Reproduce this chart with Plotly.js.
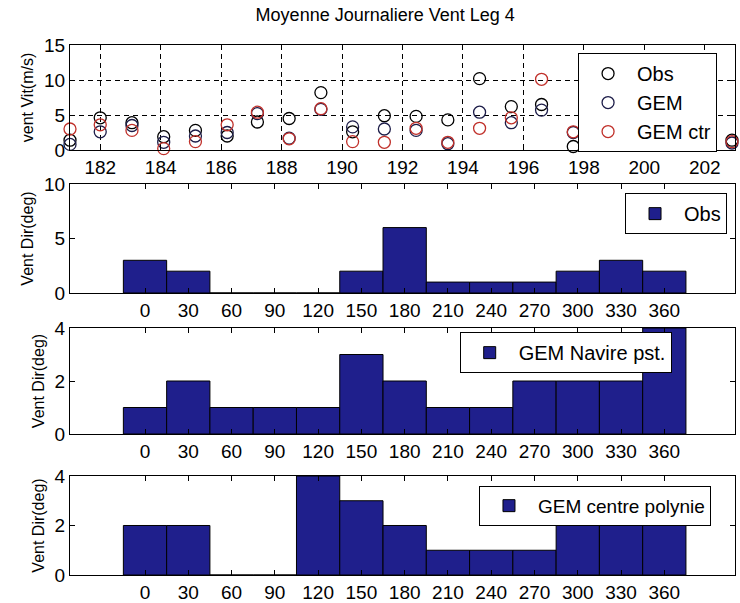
<!DOCTYPE html>
<html><head><meta charset="utf-8">
<script src="https://cdn.plot.ly/plotly-3.0.1.min.js"></script>
<style>body{margin:0;background:#fff}#chart{width:740px;height:603px}</style>
</head><body><div id="chart"></div>
<script>
// ---- data ----
const days = [181, 182, 183.05, 184.1, 185.15, 186.2, 187.2, 188.25, 189.3, 190.35, 191.4, 192.45, 193.5, 194.55, 195.6, 196.6, 197.65, 198.7, 199.75, 200.8, 201.85, 202.9];
const obsSpeed = [1.4, 4.6, 3.9, 1.9, 2.8, 2.0, 4.0, 4.5, 8.2, 2.6, 4.9, 4.8, 4.3, 10.2, 6.2, 6.5, 0.5, 5.0, 4.5, 4.0, 3.5, 1.4];
const gemSpeed = [0.8, 2.6, 3.5, 1.1, 2.0, 2.5, 5.2, 1.7, 5.8, 3.3, 3.0, 2.8, 0.9, 5.4, 3.9, 5.7, 2.5, 4.0, 3.5, 3.0, 3.0, 1.0];
const ctrSpeed = [3.0, 3.6, 2.8, 0.2, 1.2, 3.6, 5.4, 1.6, 5.9, 1.2, 1.1, 3.1, 1.1, 3.1, 4.6, 10.1, 2.6, 3.0, 3.0, 2.0, 1.9, 1.2];
const dayTicks = [182, 184, 186, 188, 190, 192, 194, 196, 198, 200, 202];

const dirBins = [0, 30, 60, 90, 120, 150, 180, 210, 240, 270, 300, 330, 360];
const obsDir = [3, 2, 0, 0, 0, 2, 6, 1, 1, 1, 2, 3, 2];
const gemDir = [1, 2, 1, 1, 1, 3, 2, 1, 1, 2, 2, 2, 4];
const ctrDir = [2, 2, 0, 0, 4, 3, 2, 1, 1, 1, 3, 2, 2];

const titleText = 'Moyenne Journaliere Vent Leg 4';
const speedLabel = 'vent Vit(m/s)';
const dirLabel = 'Vent Dir(deg)';

// ---- styles ----
const narrow = 'Liberation Sans Narrow, Arial Narrow, Liberation Sans, Arial, sans-serif';
const sans = 'Liberation Sans, Arial, sans-serif';
const tickFont = {family: narrow, size: 19, color: '#000'};
const barColor = '#1f1f8c';

function circ(color) {
  return {symbol: 'circle-open', size: 12, color: color, line: {width: 1.3, color: color}};
}

const traces = [
  {x: days, y: obsSpeed, type: 'scatter', mode: 'markers', name: 'Obs', marker: circ('#000000'), cliponaxis: false, xaxis: 'x', yaxis: 'y', legend: 'legend'},
  {x: days, y: gemSpeed, type: 'scatter', mode: 'markers', name: 'GEM', marker: circ('#1c1c48'), cliponaxis: false, xaxis: 'x', yaxis: 'y', legend: 'legend'},
  {x: days, y: ctrSpeed, type: 'scatter', mode: 'markers', name: 'GEM ctr', marker: circ('#c0302a'), cliponaxis: false, xaxis: 'x', yaxis: 'y', legend: 'legend'},
  {x: dirBins, y: obsDir, type: 'bar', width: 30, name: 'Obs', marker: {color: barColor, line: {color: '#000', width: 1}}, xaxis: 'x2', yaxis: 'y2', legend: 'legend2'},
  {x: dirBins, y: gemDir, type: 'bar', width: 30, name: 'GEM Navire pst.', marker: {color: barColor, line: {color: '#000', width: 1}}, xaxis: 'x3', yaxis: 'y3', legend: 'legend3'},
  {x: dirBins, y: ctrDir, type: 'bar', width: 30, name: 'GEM centre polynie', marker: {color: barColor, line: {color: '#000', width: 1}}, xaxis: 'x4', yaxis: 'y4', legend: 'legend4'}
];

function xax(anchor, range, tickvals, grid) {
  return {anchor: anchor, domain: [0, 1], range: range, tickvals: tickvals, ticks: 'inside', ticklen: 5,
    tickcolor: '#000', showline: true, linecolor: '#000', linewidth: 1, mirror: 'ticks',
    showgrid: grid, gridcolor: '#000', gridwidth: 1, griddash: '5px,4px', zeroline: false,
    tickfont: tickFont, fixedrange: true};
}
function yax(anchor, domain, range, tickvals, grid, title) {
  return {anchor: anchor, domain: domain, range: range, tickvals: tickvals, ticks: 'inside', ticklen: 5,
    tickcolor: '#000', showline: true, linecolor: '#000', linewidth: 1, mirror: 'ticks',
    showgrid: grid, gridcolor: '#000', gridwidth: 1, griddash: '5px,4px', zeroline: false,
    tickfont: tickFont, title: {text: title, font: {family: sans, size: 16, color: '#000'}, standoff: 6},
    fixedrange: true};
}
function leg(x, y, xanchor, size) {
  return {x: x, y: y, xref: 'paper', yref: 'paper', xanchor: xanchor, yanchor: 'top',
    bgcolor: '#fff', bordercolor: '#000', borderwidth: 1, itemwidth: 48,
    font: {family: sans, size: size, color: '#000'}, tracegroupgap: 0};
}

const layout = {
  width: 740, height: 603,
  margin: {l: 70, r: 5, t: 40, b: 20},
  paper_bgcolor: '#fff', plot_bgcolor: '#fff',
  title: {text: titleText, font: {family: sans, size: 18, color: '#000'}, x: 0.474, xref: 'paper', y: 0.975, yref: 'container', yanchor: 'middle'},
  showlegend: true,
  xaxis: xax('y', [181, 203], dayTicks, true),
  yaxis: yax('x', [0.7974, 0.9908], [0, 15], [0, 5, 10, 15], true, speedLabel),
  xaxis2: xax('y2', [-52, 409], dirBins, false),
  yaxis2: yax('x2', [0.5341, 0.7348], [0, 10], [0, 5, 10], false, dirLabel),
  xaxis3: xax('y3', [-52, 409], dirBins, false),
  yaxis3: yax('x3', [0.2744, 0.4696], [0, 4], [0, 2, 4], false, dirLabel),
  xaxis4: xax('y4', [-52, 409], dirBins, false),
  yaxis4: yax('x4', [0.0147, 0.1971], [0, 4], [0, 2, 4], false, dirLabel),
  legend: leg(0.764, 0.976, 'left', 20),
  legend2: leg(0.988, 0.718, 'right', 20),
  legend3: leg(0.586, 0.462, 'left', 20),
  legend4: leg(0.615, 0.179, 'left', 19),
  bargap: 0
};

Plotly.newPlot('chart', traces, layout, {staticPlot: true, displayModeBar: false});
</script>
</body></html>
